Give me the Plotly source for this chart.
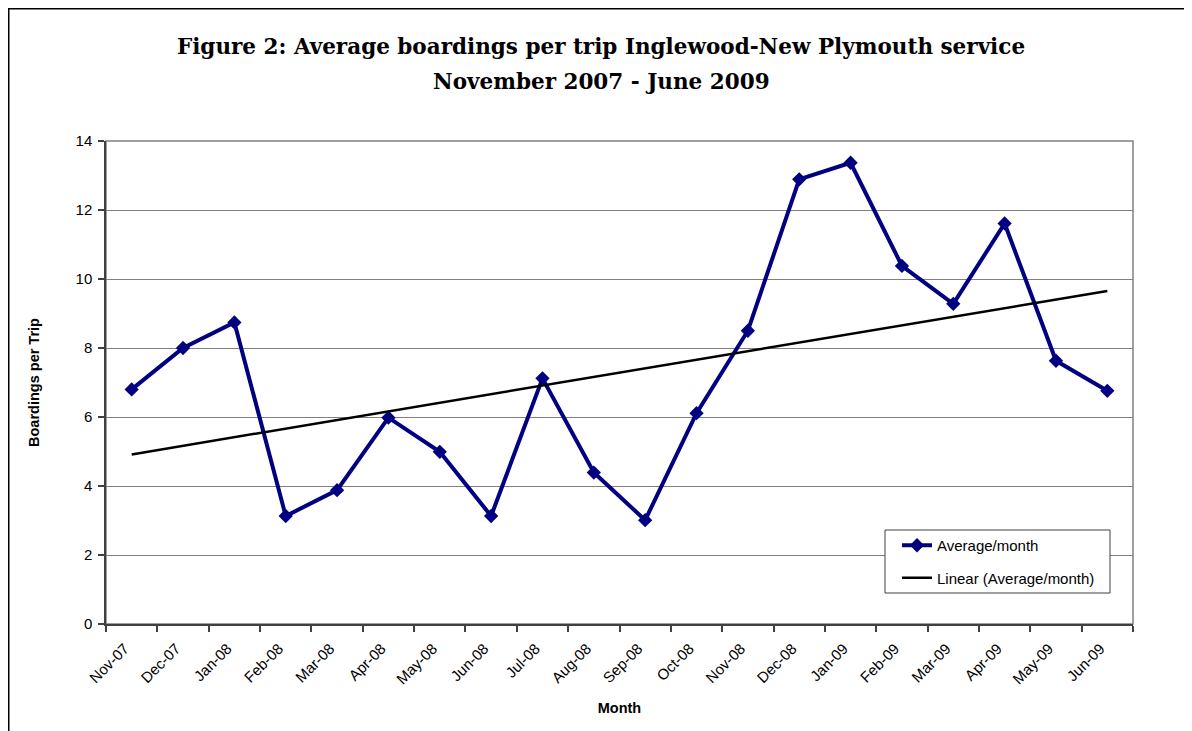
import numpy as np
import plotly.graph_objects as go

months = ["Nov-07", "Dec-07", "Jan-08", "Feb-08", "Mar-08", "Apr-08", "May-08",
          "Jun-08", "Jul-08", "Aug-08", "Sep-08", "Oct-08", "Nov-08", "Dec-08",
          "Jan-09", "Feb-09", "Mar-09", "Apr-09", "May-09", "Jun-09"]
avg_month = [6.80, 8.00, 8.74, 3.13, 3.88, 5.98, 4.99, 3.13, 7.12, 4.39,
             3.01, 6.11, 8.50, 12.89, 13.37, 10.38, 9.28, 11.61, 7.63, 6.76]
y_ticks = [0, 2, 4, 6, 8, 10, 12, 14]
title_line1 = "Figure 2: Average boardings per trip Inglewood-New Plymouth service"
title_line2 = "November 2007 - June 2009"

# Linear trendline (least squares), as in the spreadsheet
idx = np.arange(len(avg_month))
slope, intercept = np.polyfit(idx, avg_month, 1)
trend = (intercept + slope * idx).tolist()

# page has an 8px body margin; work in page pixels and convert
OFF = 8
PAGE_W, PAGE_H = 1192, 731
W, H = PAGE_W - OFF, PAGE_H - OFF
PL, PR, PT, PB = 106, 1133, 141, 624          # plot area in page pixels
L, R, T, B = PL - OFF, W - (PR - OFF), PT - OFF, H - (PB - OFF)
pw, ph = PR - PL, PB - PT

def px_x(x):
    return (x - PL) / pw

def px_y(y):
    return (PB - y) / ph

fig = go.Figure()
fig.add_trace(go.Scatter(
    x=months, y=avg_month, mode="lines+markers", name="Average/month",
    line=dict(color="#000080", width=4),
    marker=dict(symbol="diamond", size=11, color="#000080"),
    legendgroup="a",
))
fig.add_trace(go.Scatter(
    x=months, y=trend, mode="lines", name="Linear (Average/month)",
    line=dict(color="#000000", width=2.5),
    legendgroup="b",
))

sans = "Liberation Sans, Arial, sans-serif"
tick_font = dict(family=sans, size=15, color="#000000")
title_font = dict(family=sans, size=14.5, color="#000000")
head_font = dict(family="DejaVu Serif, serif", size=21.5, color="#000000", weight="bold")

fig.update_layout(
    width=W, height=H,
    margin=dict(l=L, r=R, t=T, b=B),
    paper_bgcolor="white", plot_bgcolor="white",
    title=dict(
        text=title_line1, font=head_font,
        x=(601 - OFF) / W, xref="container", xanchor="center",
        y=1 - (46 - OFF) / H, yref="container", yanchor="middle",
    ),
    annotations=[
        dict(text=title_line2, font=head_font, showarrow=False,
             xref="paper", yref="paper", x=px_x(601), y=px_y(81),
             xanchor="center", yanchor="middle"),
    ],
    xaxis=dict(
        type="category", tickson="boundaries", ticks="outside", ticklen=6,
        tickcolor="#404040", tickwidth=1.5,
        showline=True, linecolor="#404040", linewidth=2,
        showgrid=False, tickangle=-45, tickfont=tick_font,
        ticklabelstandoff=8, ticklabelshift=-7,
        title=dict(text="<b>Month</b>", font=title_font, standoff=17),
        range=[-0.5, len(months) - 0.5],
    ),
    yaxis=dict(
        range=[0, 14], tickvals=y_ticks, ticks="outside", ticklen=6,
        tickcolor="#404040", tickwidth=1.5,
        showline=True, linecolor="#404040", linewidth=1.5,
        showgrid=True, gridcolor="#808080", gridwidth=1,
        zeroline=False, tickfont=tick_font, ticklabelstandoff=3,
        title=dict(text="<b>Boardings per Trip</b>", font=title_font, standoff=32),
    ),
    legend=dict(
        x=px_x(897), y=px_y(529), xanchor="left", yanchor="top",
        bgcolor="rgba(0,0,0,0)", borderwidth=0,
        font=dict(family=sans, size=15, color="#000000"),
        tracegroupgap=10,
    ),
    showlegend=True,
    shapes=[
        # plot area border (gray)
        dict(type="rect", xref="paper", yref="paper", x0=0, x1=1, y0=0, y1=1,
             line=dict(color="#808080", width=1.5), layer="below"),
        # legend box
        dict(type="rect", xref="paper", yref="paper",
             x0=px_x(885), x1=px_x(1110), y0=px_y(593), y1=px_y(530),
             fillcolor="white", line=dict(color="#404040", width=1), layer="above"),
        # outer frame
        dict(type="rect", xref="paper", yref="paper",
             x0=px_x(OFF + 0.75), x1=px_x(1230), y0=px_y(780), y1=px_y(OFF + 0.75),
             line=dict(color="#000000", width=1.5)),
    ],
)

fig.write_html("out.html")
